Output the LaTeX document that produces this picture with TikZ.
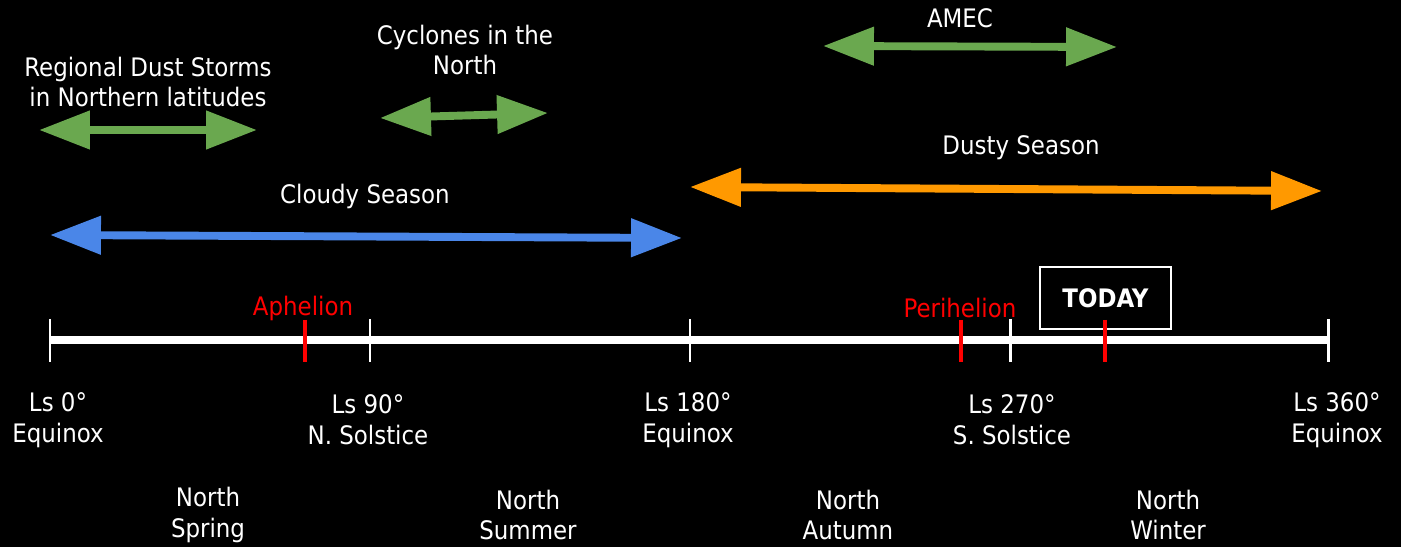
\documentclass[tikz,border=0pt]{standalone}
\usepackage{fontspec}
\setmainfont{DejaVu Sans Condensed}
\usetikzlibrary{arrows.meta, positioning}

\definecolor{cloudblue}{HTML}{4A86E8}
\definecolor{stormgreen}{HTML}{6AA84F}
\definecolor{dustorange}{HTML}{FF9900}

\begin{document}
\begin{tikzpicture}[
	  x=0.02cm, y=-0.02cm,
	  txt/.style={text=white, align=center, inner sep=0pt, font=\fontsize{14.5}{17.6}\selectfont},
	  redtxt/.style={txt, text=red},
	  todaybox/.style={draw=white, line width=1.1pt, minimum width=2.62cm, minimum height=1.24cm, text=white, font=\fontsize{14.5}{16}\selectfont\bfseries},
	  dblarrow/.style={line width=4.5pt, {Triangle[length=29pt, width=21pt]}-{Triangle[length=29pt, width=21pt]}},
	  whitetick/.style={draw=white, line width=1.7pt},
	  redtick/.style={draw=red, line width=2.3pt}
	]

	\fill[black] (0,0) rectangle (1401,547);
	\useasboundingbox (0,0) rectangle (1401,547);

	% timeline
	\coordinate (ls0) at (50,340);
	\coordinate (ls90) at (370,340);
	\coordinate (ls180) at (690,340);
	\coordinate (ls270) at (1010,340);
	\coordinate (ls360) at (1328,340);
	\coordinate (aph) at (305,340);
	\coordinate (peri) at (961,340);
	\coordinate (now) at (1105,340);

	\node (today) [todaybox] at (1105.5,298) {TODAY};

	\draw [white, line width=4pt] (ls0) -- (ls360);
	\foreach \t in {ls0,ls90,ls180,ls270,ls360}
	  \draw [whitetick] (\t) ++(0,-21) -- ++(0,43);
	\foreach \t in {aph,peri,now}
	  \draw [redtick] (\t) ++(0,-20) -- ++(0,42);

	\node (aphlbl) [redtxt] at (303,308) {Aphelion};
	\node (perilbl) [redtxt] at (960,308) {Perihelion};

	\node (ls0lbl) [txt] at (58,420) {Ls 0°\\Equinox};
	\node (ls90lbl) [txt] at (368,420) {Ls 90°\\N. Solstice};
	\node (ls180lbl) [txt] at (688,420) {Ls 180°\\Equinox};
	\node (ls270lbl) [txt] at (1012,420) {Ls 270°\\S. Solstice};
	\node (ls360lbl) [txt] at (1337,420) {Ls 360°\\Equinox};

	\node (spring) [txt] at (208,515) {North\\Spring};
	\node (summer) [txt] at (528,515) {North\\Summer};
	\node (autumn) [txt] at (848,515) {North\\Autumn};
	\node (winter) [txt] at (1168,515) {North\\Winter};

	% seasons
	\coordinate (cloudL) at (50,235);
	\coordinate (cloudR) at (682,238);
	\coordinate (dustL) at (690,187);
	\coordinate (dustR) at (1322,191);
	\coordinate (amecL) at (823,46);
	\coordinate (amecR) at (1117,47);
	\coordinate (regL) at (39,130);
	\coordinate (regR) at (257,130);
	\coordinate (cycL) at (380,118);
	\coordinate (cycR) at (548,113);

	\draw [dblarrow, cloudblue] (cloudL) -- (cloudR);
	\draw [dblarrow, dustorange] (dustL) -- (dustR);
	\draw [dblarrow, stormgreen] (amecL) -- (amecR);
	\draw [dblarrow, stormgreen] (regL) -- (regR);
	\draw [dblarrow, stormgreen] (cycL) -- (cycR);

	\node (cloudy) [txt] at (365,196) {Cloudy Season};
	\node (dusty) [txt] at (1021,148) {Dusty Season};
	\node (amec) [txt] at (960,18) {AMEC};
	\node (regional) [txt] at (148,82) {Regional Dust Storms\\in Northern latitudes};
	\node (cyclones) [txt] at (465,50) {Cyclones in the\\North};

	\end{tikzpicture}
\end{document}
